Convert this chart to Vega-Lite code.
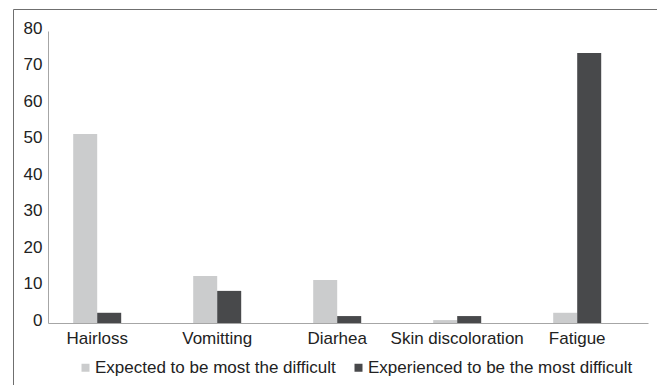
{
  "$schema": "https://vega.github.io/schema/vega-lite/v6.json",
  "width": 644,
  "height": 380,
  "autosize": {"type": "none"},
  "padding": {"left": 13, "top": 9, "right": 0, "bottom": 0},
  "background": "white",
  "config": {
    "view": {"stroke": "#6f6f6f", "strokeWidth": 1},
    "font": "Liberation Sans"
  },
  "data": {
    "values": [
      {"symptom": "Hairloss", "group": "Expected to be most the difficult", "value": 51.8},
      {"symptom": "Hairloss", "group": "Experienced to be the most difficult", "value": 2.8},
      {"symptom": "Vomitting", "group": "Expected to be most the difficult", "value": 12.9},
      {"symptom": "Vomitting", "group": "Experienced to be the most difficult", "value": 8.8},
      {"symptom": "Diarhea", "group": "Expected to be most the difficult", "value": 11.8},
      {"symptom": "Diarhea", "group": "Experienced to be the most difficult", "value": 1.9},
      {"symptom": "Skin discoloration", "group": "Expected to be most the difficult", "value": 0.8},
      {"symptom": "Skin discoloration", "group": "Experienced to be the most difficult", "value": 1.9},
      {"symptom": "Fatigue", "group": "Expected to be most the difficult", "value": 2.8},
      {"symptom": "Fatigue", "group": "Experienced to be the most difficult", "value": 74.0}
    ]
  },
  "mark": {"type": "bar"},
  "encoding": {
    "x": {
      "field": "symptom",
      "type": "nominal",
      "sort": ["Hairloss", "Vomitting", "Diarhea", "Skin discoloration", "Fatigue"],
      "scale": {"range": [35, 635], "paddingInner": 0.6, "paddingOuter": 0.3, "align": 0.35},
      "axis": {
        "title": null,
        "offset": -66,
        "labelAngle": 0,
        "ticks": false,
        "grid": false,
        "domainColor": "#a6a6a6",
        "labelFontSize": 17,
        "labelColor": "#222222",
        "labelPadding": 7,
        "labelLimit": 0
      }
    },
    "xOffset": {
      "field": "group",
      "type": "nominal",
      "sort": ["Expected to be most the difficult", "Experienced to be the most difficult"],
      "scale": {"paddingInner": 0, "paddingOuter": 0}
    },
    "y": {
      "field": "value",
      "type": "quantitative",
      "scale": {"domain": [0, 80], "range": [314, 22], "nice": false},
      "axis": {
        "title": null,
        "offset": -35,
        "values": [0, 10, 20, 30, 40, 50, 60, 70, 80],
        "ticks": false,
        "grid": false,
        "domainColor": "#a6a6a6",
        "labelFontSize": 17,
        "labelColor": "#222222",
        "labelPadding": 6,
        "labelOffset": -3
      }
    },
    "color": {
      "field": "group",
      "type": "nominal",
      "sort": ["Expected to be most the difficult", "Experienced to be the most difficult"],
      "scale": {
        "domain": ["Expected to be most the difficult", "Experienced to be the most difficult"],
        "range": ["#cbcccd", "#48494b"]
      },
      "legend": {
        "title": null,
        "orient": "none",
        "legendX": 64,
        "legendY": 350,
        "direction": "horizontal",
        "symbolType": "square",
        "symbolSize": 64,
        "symbolStrokeWidth": 0,
        "labelFontSize": 17,
        "labelColor": "#222222",
        "labelOffset": 1,
        "labelLimit": 0,
        "columnPadding": 14,
        "padding": 0
      }
    }
  }
}
